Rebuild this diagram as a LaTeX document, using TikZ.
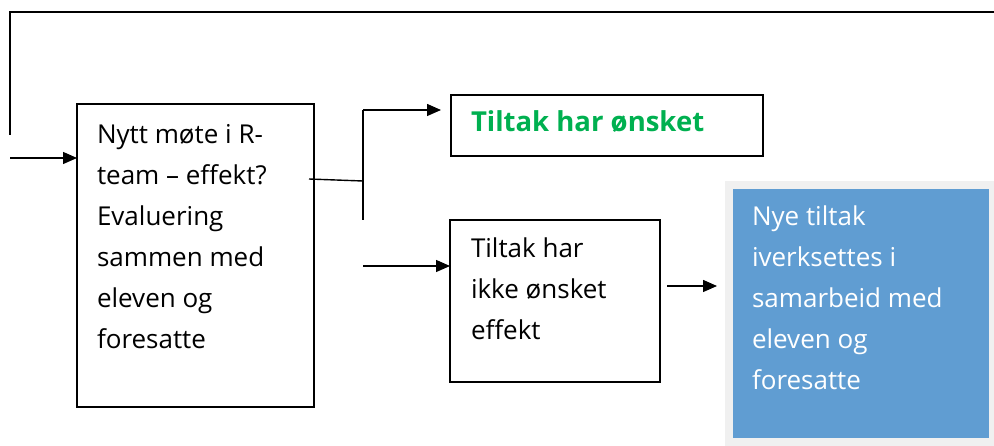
\documentclass[tikz,border=0pt]{standalone}
\usepackage{fontspec}
\setmainfont{Open Sans}
\usetikzlibrary{arrows.meta}
\definecolor{okgreen}{RGB}{0,176,80}
\definecolor{stepblue}{RGB}{96,157,210}
\definecolor{framegray}{RGB}{240,240,240}

\begin{document}
\begin{tikzpicture}[x=1pt,y=-1pt,line width=1.4pt,>={Triangle[length=14pt,width=12pt]},
  stepbox/.style={rectangle,draw,anchor=north west,outer sep=0pt,inner xsep=20pt,font=\fontsize{26}{41}\selectfont}]
\useasboundingbox (0,0) rectangle (994,446);

\node [stepbox,inner ysep=20pt] (meeting) at (77,104) {\parbox[t][263pt][t]{197pt}{Nytt møte i R-\\team – effekt?\\Evaluering\\sammen med\\eleven og\\foresatte}};
\node [stepbox,inner ysep=16pt,text=okgreen] (ok) at (451,95) {\parbox[t][29pt][t]{272pt}{\fontsize{27.5}{41}\selectfont\bfseries Tiltak har ønsket}};
\node [stepbox,inner xsep=21pt,inner ysep=18pt] (notok) at (450,220) {\parbox[t][126pt][t]{168pt}{Tiltak har\\ikke ønsket\\effekt}};
\node [stepbox,inner xsep=23pt,inner ysep=21pt,draw=framegray,line width=8pt,fill=stepblue,text=white] (newsteps) at (729,185) {\parbox[t][215pt][t]{218pt}{Nye tiltak\\iverksettes i\\samarbeid med\\eleven og\\foresatte}};

\coordinate (loopend) at (10,135);
\coordinate (loopcorner) at (994,12);
\coordinate (entry) at (10,158);
\coordinate (forkin) at (309,179);
\coordinate (fork) at (363,181);
\coordinate (forktop) at (363,110);
\coordinate (forkbot) at (363,220);
\coordinate (lowstart) at (363,266);
\coordinate (nextstart) at (667,286);
\coordinate (nextend) at (717,286);

\draw (loopend) |- (loopcorner);
\draw [->] (entry) -- (entry -| meeting.west);
\draw (forkin) -- (fork);
\draw (forktop) -- (forkbot);
\draw [->] (forktop) -- ([xshift=-10pt]forktop -| ok.west);
\draw [->] (lowstart) -- (lowstart -| notok.west);
\draw [->] (nextstart) -- (nextend);
\end{tikzpicture}
\end{document}
